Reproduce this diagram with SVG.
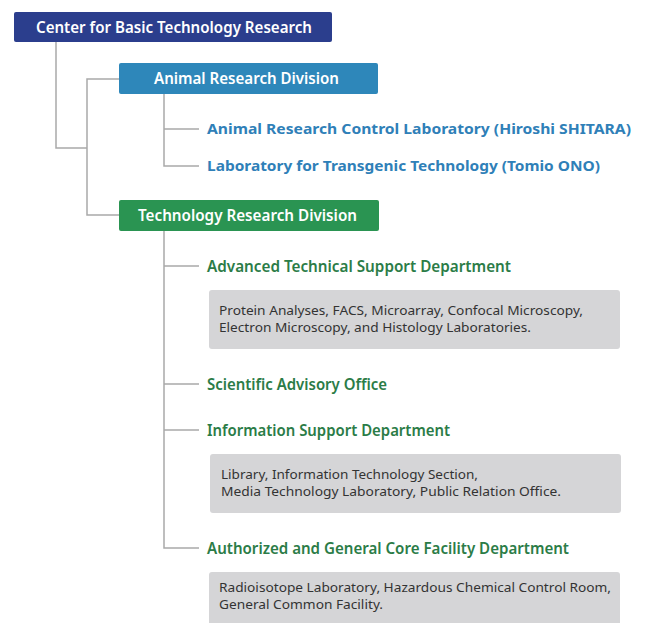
<svg xmlns="http://www.w3.org/2000/svg" width="645" height="623" viewBox="0 0 645 623">
<style>
text{font-family:"Noto Sans","Open Sans","Liberation Sans",sans-serif}
.box{stroke:none}
.bt{fill:#fff;font-size:16px;font-weight:600}
.blue{fill:#2f80b8;font-size:15px;font-weight:700}
.green{fill:#2b7c47;font-size:15.5px;font-weight:600}
.gray{fill:#d5d5d7}
.gt{fill:#333;font-size:12.5px}
.ln{fill:none;stroke:#a9a9a9;stroke-width:1.5}
</style>
<rect width="645" height="623" fill="#fff"/>
<g id="connectors">
<path class="ln" d="M56 42V148H87"/>
<path class="ln" d="M119 79H87V215H119"/>
<path class="ln" d="M164 94V166H199M164 129H199"/>
<path class="ln" d="M164 231V548H199M164 266H199M164 384H199M164 430H199"/>
</g>
<g id="center">
<rect class="box" x="14" y="12" width="318" height="30" rx="2" fill="#2b3e8d"/>
<text class="bt" x="36" y="33" textLength="276" lengthAdjust="spacingAndGlyphs">Center for Basic Technology Research</text>
</g>
<g id="animal">
<rect class="box" x="119" y="63" width="259" height="31" rx="2" fill="#2e87ba"/>
<text class="bt" x="154" y="84" textLength="185" lengthAdjust="spacingAndGlyphs">Animal Research Division</text>
</g>
<g id="arcl">
<text class="blue" x="207" y="134" textLength="424" lengthAdjust="spacingAndGlyphs">Animal Research Control Laboratory (Hiroshi SHITARA)</text>
</g>
<g id="ltt">
<text class="blue" x="207" y="171" textLength="393" lengthAdjust="spacingAndGlyphs">Laboratory for Transgenic Technology (Tomio ONO)</text>
</g>
<g id="tech">
<rect class="box" x="119" y="200" width="260" height="31" rx="2" fill="#2a9452"/>
<text class="bt" x="138" y="221" textLength="219" lengthAdjust="spacingAndGlyphs">Technology Research Division</text>
</g>
<g id="atsd">
<text class="green" x="207" y="272" textLength="304" lengthAdjust="spacingAndGlyphs">Advanced Technical Support Department</text>
<rect class="gray" x="209" y="290" width="411" height="59" rx="3"/>
<text class="gt" x="219" y="315" textLength="364" lengthAdjust="spacingAndGlyphs">Protein Analyses, FACS, Microarray, Confocal Microscopy,</text>
<text class="gt" x="219" y="332" textLength="312" lengthAdjust="spacingAndGlyphs">Electron Microscopy, and Histology Laboratories.</text>
</g>
<g id="sao">
<text class="green" x="207" y="390" textLength="180" lengthAdjust="spacingAndGlyphs">Scientific Advisory Office</text>
</g>
<g id="isd">
<text class="green" x="207" y="436" textLength="243" lengthAdjust="spacingAndGlyphs">Information Support Department</text>
<rect class="gray" x="210" y="454" width="411" height="59" rx="3"/>
<text class="gt" x="221" y="479" textLength="257" lengthAdjust="spacingAndGlyphs">Library, Information Technology Section,</text>
<text class="gt" x="221" y="496" textLength="340" lengthAdjust="spacingAndGlyphs">Media Technology Laboratory, Public Relation Office.</text>
</g>
<g id="agcfd">
<text class="green" x="207" y="554" textLength="362" lengthAdjust="spacingAndGlyphs">Authorized and General Core Facility Department</text>
<rect class="gray" x="209" y="572" width="411" height="60" rx="3"/>
<text class="gt" x="219" y="592" textLength="392" lengthAdjust="spacingAndGlyphs">Radioisotope Laboratory, Hazardous Chemical Control Room,</text>
<text class="gt" x="219" y="609" textLength="164" lengthAdjust="spacingAndGlyphs">General Common Facility.</text>
</g>
</svg>
